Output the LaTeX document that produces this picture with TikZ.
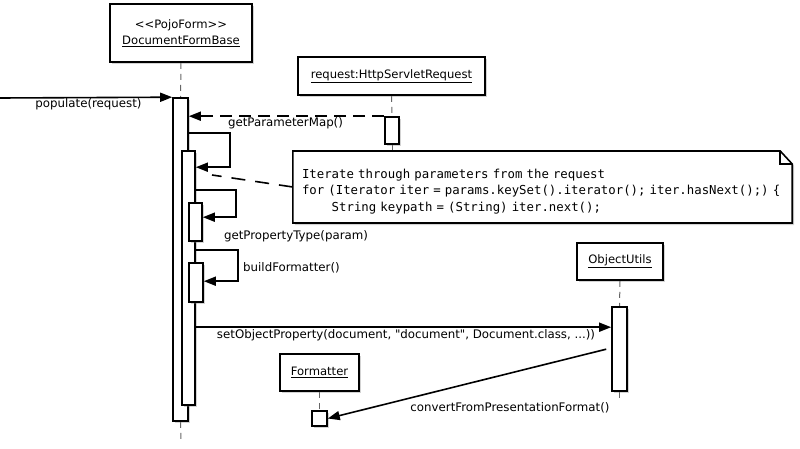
\documentclass[tikz,border=0pt]{standalone}
\usepackage{fontspec}
\setmainfont{DejaVu Sans}[Ligatures=TeXOff]
\setmonofont{DejaVu Sans Mono}
\usetikzlibrary{arrows.meta, shadows, backgrounds}

\begin{document}
\begin{tikzpicture}[x=1pt, y=-1pt]
    % Define styles
    \tikzstyle{object} = [rectangle, draw, fill=white, line width=1.6pt, inner sep=0pt, align=center, font=\fontsize{11.6}{16}\selectfont, drop shadow={shadow xshift=2pt, shadow yshift=-2pt, opacity=0.35}]
    \tikzstyle{activation} = [rectangle, draw, fill=white, line width=1.6pt, inner sep=0pt, drop shadow={shadow xshift=2pt, shadow yshift=-2pt, opacity=0.35}]
    \tikzstyle{lifeline} = [draw=black!60, line width=1pt, dash pattern=on 6pt off 5pt]
    \tikzstyle{arrow} = [-{Triangle[length=12pt, width=9pt]}, line width=1.6pt]
    \tikzstyle{reply} = [arrow, dash pattern=on 12pt off 7pt]
    \tikzstyle{msg} = [font=\fontsize{11.8}{13}\selectfont, inner sep=0pt]
    \tikzstyle{notebox} = [align=left, inner sep=9pt, font=\ttfamily\fontsize{12.35}{16.5}\selectfont]
    \tikzstyle{anchorline} = [line width=1.6pt, dash pattern=on 14pt off 10pt]

    \useasboundingbox (0,0) rectangle (800,449);

    % Objects
    \node[object, minimum width=142pt, minimum height=58pt] (docform) at (181,33) {<<PojoForm>>\\\underline{DocumentFormBase}};
    \node[object, minimum width=187pt, minimum height=38pt] (request) at (391.5,76) {\underline{request:HttpServletRequest}};
    \node[object, minimum width=86pt, minimum height=37pt] (objutils) at (620,261.5) {\underline{ObjectUtils}};
    \node[object, minimum width=79pt, minimum height=37pt] (formatter) at (319.5,372.5) {\underline{Formatter}};

    % Activations
    \node[activation, minimum width=15pt, minimum height=323pt] (outer) at (180.5,259.5) {};
    \node[activation, minimum width=13pt, minimum height=254pt] (inner) at (188.5,278) {};
    \node[activation, minimum width=13pt, minimum height=38pt] (proptype) at (195.5,222) {};
    \node[activation, minimum width=14pt, minimum height=39pt] (buildfmt) at (196,282.5) {};
    \node[activation, minimum width=14pt, minimum height=27pt] (reqact) at (392,130.5) {};
    \node[activation, minimum width=15pt, minimum height=84pt] (objact) at (619.5,349) {};
    \node[activation, minimum width=15pt, minimum height=15pt] (fmtact) at (319.5,418.5) {};

    % Note
    \node[notebox, text width=481pt, minimum height=68pt] (note) at (542.5,187) {\rule{0pt}{18pt}Iterate through parameters from the request\\
for (Iterator iter = params.keySet().iterator(); iter.hasNext();) \{\\
\hphantom{0000}String keypath = (String) iter.next();};

    % Lifelines and note outline
    \coordinate (docend) at (181,442);
    \coordinate (objend) at (619.5,402);
    \begin{scope}[on background layer]
        \draw[lifeline] (docform.south) -- (outer.north);
        \draw[lifeline] (outer.south) -- (docend);
        \draw[lifeline] (request.south) -- (reqact.north);
        \draw[lifeline] (reqact.south) -- (reqact.south |- note.north);
        \draw[lifeline] (objutils.south) -- (objact.north);
        \draw[lifeline] (objact.south) -- (objend);
        \draw[lifeline] (formatter.south) -- (fmtact.north);
        \draw[line width=1.6pt, fill=white, drop shadow={shadow xshift=2pt, shadow yshift=-2pt, opacity=0.35}] (note.north west) -- ([xshift=-12pt]note.north east) -- ([yshift=-13pt]note.north east) -- (note.south east) -- (note.south west) -- cycle;
        \draw[line width=1.6pt] ([xshift=-12pt]note.north east) -- ([xshift=-12pt, yshift=-13pt]note.north east) -- ([yshift=-13pt]note.north east);
    \end{scope}

    % Messages
    \coordinate (caller) at (0,98);
    \draw[arrow] (caller) -- (outer.north west);
    \node[msg] (popl) at (88.5,104) {populate(request)};

    \draw[reply] (reqact.north west) -- (outer.north east |- reqact.north west);
    \node[msg] (gpml) at (285.5,123) {getParameterMap()};

    \draw[arrow] ([yshift=-36pt]outer.north east) -- ++(41,0) |- ([yshift=-17pt]inner.north east);
    \coordinate (loopnote) at (212,175);
    \draw[anchorline] (note.west) -- (loopnote);

    \draw[arrow] ([yshift=-40pt]inner.north east) -- ++(40,0) |- ([yshift=-15pt]proptype.north east);
    \node[msg] (gptl) at (296,236) {getPropertyType(param)};

    \draw[arrow] ([yshift=-100pt]inner.north east) -- ++(42,0) |- ([yshift=-19pt]buildfmt.north east);
    \node[msg] (bfl) at (291.5,268) {buildFormatter()};

    \draw[arrow] ([yshift=-177pt]inner.north east) -- ([yshift=-21pt]objact.north west);
    \node[msg] (sopl) at (406,335) {setObjectProperty(document, "document", Document.class, ...))};

    \draw[arrow] ([xshift=-5pt, yshift=-43pt]objact.north west) -- (fmtact.east);
    \node[msg] (cfpl) at (510,408) {convertFromPresentationFormat()};
\end{tikzpicture}
\end{document}
